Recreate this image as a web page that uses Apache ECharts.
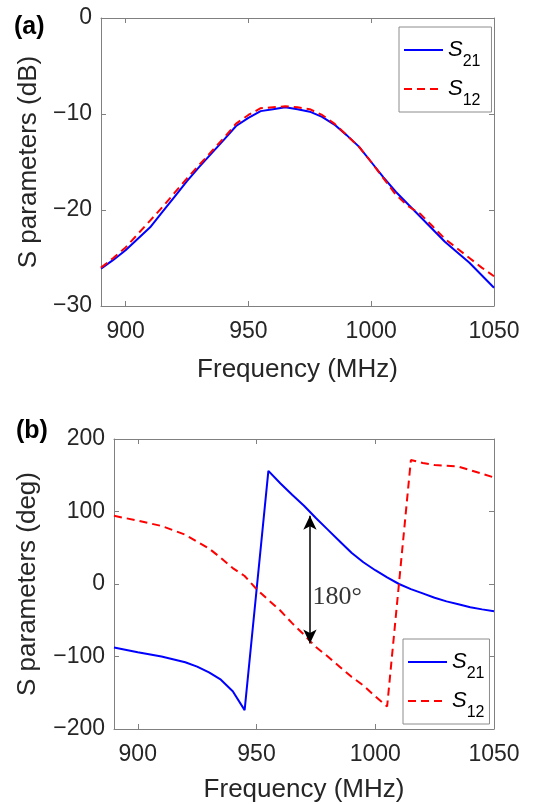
<!DOCTYPE html>
<html><head><meta charset="utf-8">
<script src="https://cdn.jsdelivr.net/npm/echarts@6/dist/echarts.min.js"></script>
<style>html,body{margin:0;padding:0;background:#fff}#c{width:533px;height:804px}</style>
</head><body><div id="c"></div>
<script>
// ---------- data ----------
const magFreq = [890,895,900,905,910,915,920,925,930,935,940,945,950,955,960,965,970,975,980,985,990,995,1000,1005,1010,1015,1020,1025,1030,1035,1040,1045,1050];
const magS21  = [-26.1,-25.2,-24.2,-23.0,-21.8,-20.2,-18.6,-17.0,-15.5,-14.1,-12.7,-11.25,-10.4,-9.7,-9.5,-9.3,-9.5,-9.76,-10.3,-11.1,-12.2,-13.4,-15.0,-16.6,-18.1,-19.4,-20.7,-22.0,-23.3,-24.4,-25.5,-26.8,-28.1];
const magS12  = [-26.0,-25.0,-23.9,-22.5,-21.1,-19.7,-18.2,-16.7,-15.3,-13.9,-12.5,-11.0,-10.1,-9.4,-9.3,-9.2,-9.3,-9.5,-10.1,-11.0,-12.2,-13.4,-15.0,-16.7,-18.4,-19.6,-20.4,-21.7,-23.0,-24.0,-25.0,-26.0,-26.9];

const phFreq21 = [890,900,910,920,925,930,935,940,945,955,960,965,970,975,980,985,990,995,1000,1005,1010,1015,1020,1025,1030,1035,1040,1045,1050];
const phS21    = [-87.5,-94,-100,-108,-114,-122,-132,-148,-174,156,139,123,108,91,75,59,43,30,19,9,0,-7,-13,-19,-24,-28,-32,-35,-37.5];
const phFreq12 = [890,900,910,920,925,930,935,940,945,950,955,960,965,970,975,980,985,990,995,1000,1005,1015,1020,1025,1030,1035,1040,1045,1050];
const phS12    = [94,87.5,80,68,58.5,49,36,22,11,-7,-22,-36.5,-54,-70,-87,-100,-114,-128,-140,-155,-169,171,167,164,163,162,157,152,147];

const xTicks = [900,950,1000,1050];
const seriesNames = ['S21','S12'];
const panelLabels = ['(a)','(b)'];
const arrowFreq = 972.5;
const arrowRange = [-82, 94];
const arrowText = '180°';
const arrowTextPos = [972.5, -18];

// ---------- styles ----------
const F = 'Liberation Sans, Arial, Helvetica, sans-serif';
const TXT = '#262626';
const AX = '#808080';
const BLUE = '#0000ff', RED = '#ff0000';
const minusFmt = v => (v < 0 ? '\u2212' + Math.abs(v) : String(v));
const zip = (a, b) => a.map((x, i) => [x, b[i]]);

function xAxes(grid, nameGap) {
  const common = {gridIndex: grid, type: 'value', min: 890, max: 1050,
    axisLine: {show: true, onZero: false, lineStyle: {color: AX, width: 1}},
    axisTick: {show: true, inside: true, length: 5, customValues: xTicks, lineStyle: {color: AX}},
    splitLine: {show: false}};
  return [
    Object.assign({}, common, {position: 'bottom',
      axisLabel: {customValues: xTicks, fontSize: 23, color: TXT, margin: 14, fontFamily: F, formatter: v => String(v)},
      name: 'Frequency (MHz)', nameLocation: 'middle', nameGap: nameGap,
      nameTextStyle: {fontSize: 26, color: TXT, fontFamily: F}}),
    Object.assign({}, common, {position: 'top', axisLabel: {show: false}})
  ];
}
function yAxes(grid, min, max, interval, name, nameGap) {
  const common = {gridIndex: grid, type: 'value', min: min, max: max, interval: interval,
    axisLine: {show: true, onZero: false, lineStyle: {color: AX, width: 1}},
    axisTick: {show: true, inside: true, length: 5, lineStyle: {color: AX}},
    splitLine: {show: false}};
  return [
    Object.assign({}, common, {position: 'left',
      axisLabel: {fontSize: 23, color: TXT, margin: 9, fontFamily: F, formatter: minusFmt},
      name: name, nameLocation: 'middle', nameGap: nameGap,
      nameTextStyle: {fontSize: 26, color: TXT, fontFamily: F}}),
    Object.assign({}, common, {position: 'right', axisLabel: {show: false}})
  ];
}
function legend(left, top, padding) {
  return {orient: 'vertical', left: left, top: top, padding: padding,
    data: seriesNames, itemWidth: 39, itemHeight: 14, itemGap: -7,
    backgroundColor: '#fff', borderColor: '#8c8c8c', borderWidth: 1, borderRadius: 0,
    selectedMode: false,
    itemStyle: {opacity: 0},
    formatter: n => '{s|S}{sub|' + n.slice(1) + '}',
    textStyle: {color: '#000', fontFamily: F, rich: {
      s: {fontSize: 22, fontStyle: 'italic', fontFamily: F, color: '#000', lineHeight: 16, padding: [12, 0, 12, 0]},
      sub: {fontSize: 16, fontFamily: F, color: '#000', lineHeight: 16, padding: [24, 0, 0, 0]}
    }}};
}
function lineSeries(name, xi, yi, data, color, dashed) {
  return {type: 'line', name: name, xAxisIndex: xi, yAxisIndex: yi, data: data,
    symbol: 'none', showSymbol: false, smooth: false, animation: false,
    lineStyle: {color: color, width: 2, type: dashed ? [8, 5] : 'solid'},
    itemStyle: {color: color}};
}

const option = {
  animation: false,
  backgroundColor: '#fff',
  title: [
    {text: panelLabels[0], left: 14, top: 15, padding: 0, textStyle: {fontSize: 25, fontWeight: 'bold', color: '#000', fontFamily: F}},
    {text: panelLabels[1], left: 16, top: 419, padding: 0, textStyle: {fontSize: 25, fontWeight: 'bold', color: '#000', fontFamily: F}}
  ],
  grid: [
    {left: 101, top: 18, width: 393, height: 288, show: false},
    {left: 114, top: 439, width: 380, height: 290, show: false}
  ],
  xAxis: [...xAxes(0, 51), ...xAxes(1, 48)],
  yAxis: [...yAxes(0, -30, 0, 10, 'S parameters (dB)', 59), ...yAxes(1, -200, 200, 100, 'S parameters (deg)', 73)],
  legend: [legend(399, 27, [0, 11, 0, 4]), legend(403, 639, [0, 5, 0, 4])],
  series: [
    lineSeries(seriesNames[0], 0, 0, zip(magFreq, magS21), BLUE, false),
    lineSeries(seriesNames[1], 0, 0, zip(magFreq, magS12), RED, true),
    Object.assign(lineSeries(seriesNames[0], 2, 2, zip(phFreq21, phS21), BLUE, false), {
      markLine: {silent: true, animation: false, symbol: ['arrow', 'arrow'], symbolSize: [10, 14],
        label: {show: false}, lineStyle: {color: '#000', type: 'solid', width: 1.5},
        data: [[{coord: [arrowFreq, arrowRange[0]]}, {coord: [arrowFreq, arrowRange[1]]}]]}
    }),
    lineSeries(seriesNames[1], 2, 2, zip(phFreq12, phS12), RED, true),
    {type: 'scatter', xAxisIndex: 2, yAxisIndex: 2, data: [arrowTextPos], symbolSize: 1, silent: true,
      itemStyle: {color: 'rgba(0,0,0,0)'},
      label: {show: true, position: 'right', distance: 2, formatter: arrowText,
        fontFamily: 'Liberation Serif, Times New Roman, serif', fontSize: 26, color: '#000'}}
  ]
};
const chart = echarts.init(document.getElementById('c'), null, {renderer: 'canvas'});
chart.setOption(option);
</script></body></html>
